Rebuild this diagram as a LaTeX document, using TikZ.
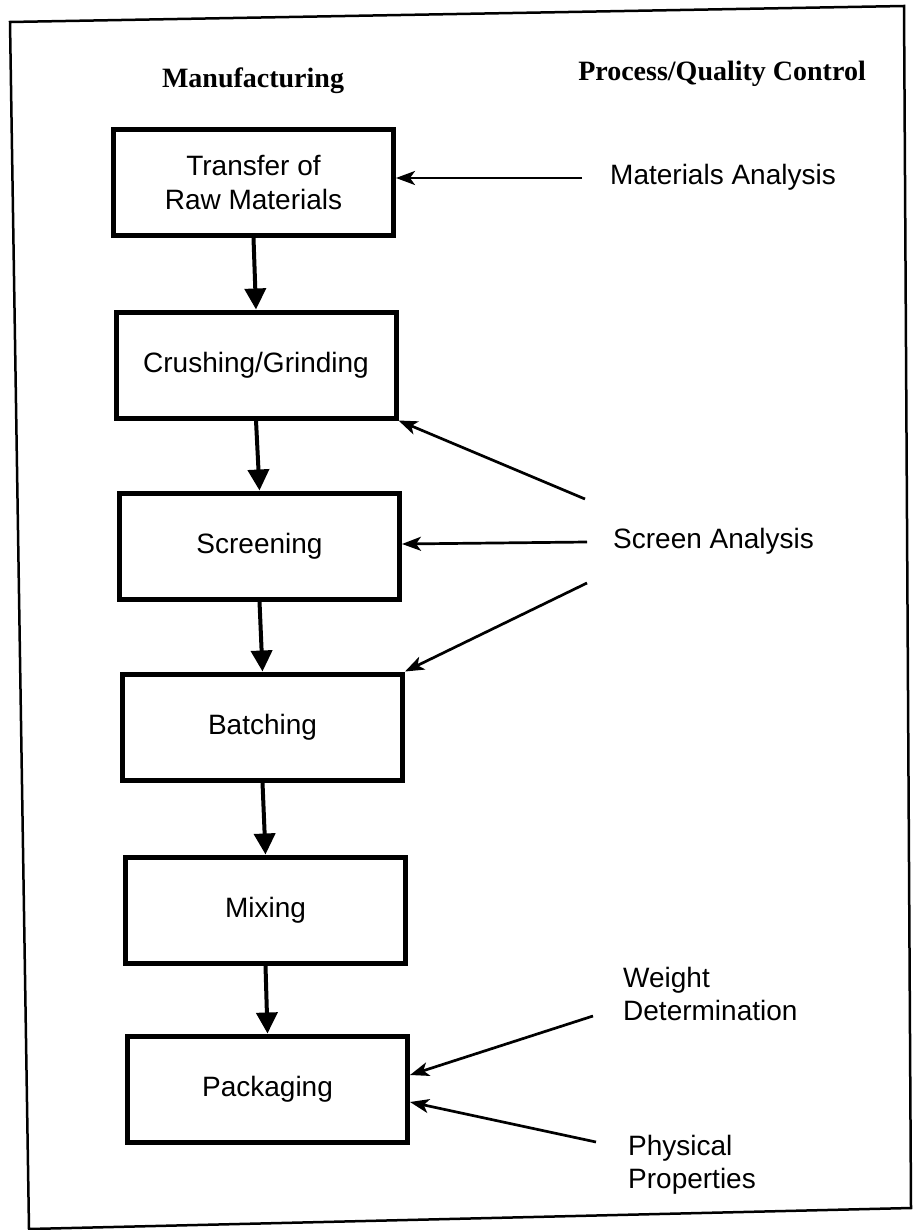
\documentclass[tikz,border=0pt]{standalone}
\usepackage{fontspec}
\setmainfont{Liberation Sans}
\newfontfamily\titlefont{Liberation Serif}
\usetikzlibrary{arrows.meta}
\begin{document}
\begin{tikzpicture}[x=1pt,y=-1pt,
  box/.style={draw, line width=5pt, minimum width=280pt, minimum height=106pt,
    inner sep=0pt, align=center, font=\fontsize{28}{34}\selectfont},
  lbl/.style={inner sep=0pt, align=left, font=\fontsize{28}{33}\selectfont},
  ttl/.style={inner sep=0pt, font=\titlefont\bfseries\fontsize{28}{34}\selectfont},
  downarrow/.style={line width=4pt, -{Triangle[length=21pt,width=21pt]}},
  sidearrow/.style={line width=2.7pt, -{Stealth[length=19pt,width=14pt,inset=5pt]}},
  framestyle/.style={line width=2.5pt, line join=miter}
]
\fill[white] (0,0) rectangle (912,1230);
\useasboundingbox (0,0) rectangle (912,1230);

% outer frame
\draw[framestyle] (10,22) -- (904,6) -- (911,1208) -- (29,1229) -- cycle;

% column titles
\node[ttl, anchor=base] (tman) at (253,88) {Manufacturing};
\node[ttl, anchor=base] (tpqc) at (722,81) {Process/Quality Control};

% manufacturing steps
\node[box] (B1) at (253.5,182.5) {Transfer of\\Raw Materials};
\node[box] (B2) at (256,365) {Crushing/Grinding};
\node[box] (B3) at (259.5,546) {Screening};
\node[box] (B4) at (262.5,727) {Batching};
\node[box] (B5) at (265.5,910) {Mixing};
\node[box] (B6) at (267.5,1089) {Packaging};

\draw[downarrow] (B1.south) -- (B2.north);
\draw[downarrow] (B2.south) -- (B3.north);
\draw[downarrow] (B3.south) -- (B4.north);
\draw[downarrow] (B4.south) -- (B5.north);
\draw[downarrow] (B5.south) -- (B6.north);

% quality control labels
\node[lbl, anchor=base west] (ma) at (610,185) {Materials Analysis};
\node[lbl, anchor=base west] (sa) at (613,548) {Screen Analysis};
\node[lbl, anchor=north west] (wd) at (623,967) {Weight\\Determination};
\node[lbl, anchor=north west] (pp) at (628,1135) {Physical\\Properties};

% arrow start points
\coordinate (maS) at (582,178);
\coordinate (saA) at (585,499);
\coordinate (saB) at (587,542);
\coordinate (saC) at (587,583);
\coordinate (wdS) at (593,1016);
\coordinate (ppS) at (596,1142);

\draw[sidearrow] (maS) -- (B1.east |- maS);
\draw[sidearrow] (saA) -- (B2.south east);
\draw[sidearrow] (saB) -- ([yshift=2pt]B3.east);
\draw[sidearrow] (saC) -- (B4.north east);
\draw[sidearrow] (wdS) -- ([yshift=14pt]B6.east);
\draw[sidearrow] (ppS) -- ([yshift=-13pt]B6.east);
\end{tikzpicture}
\end{document}
